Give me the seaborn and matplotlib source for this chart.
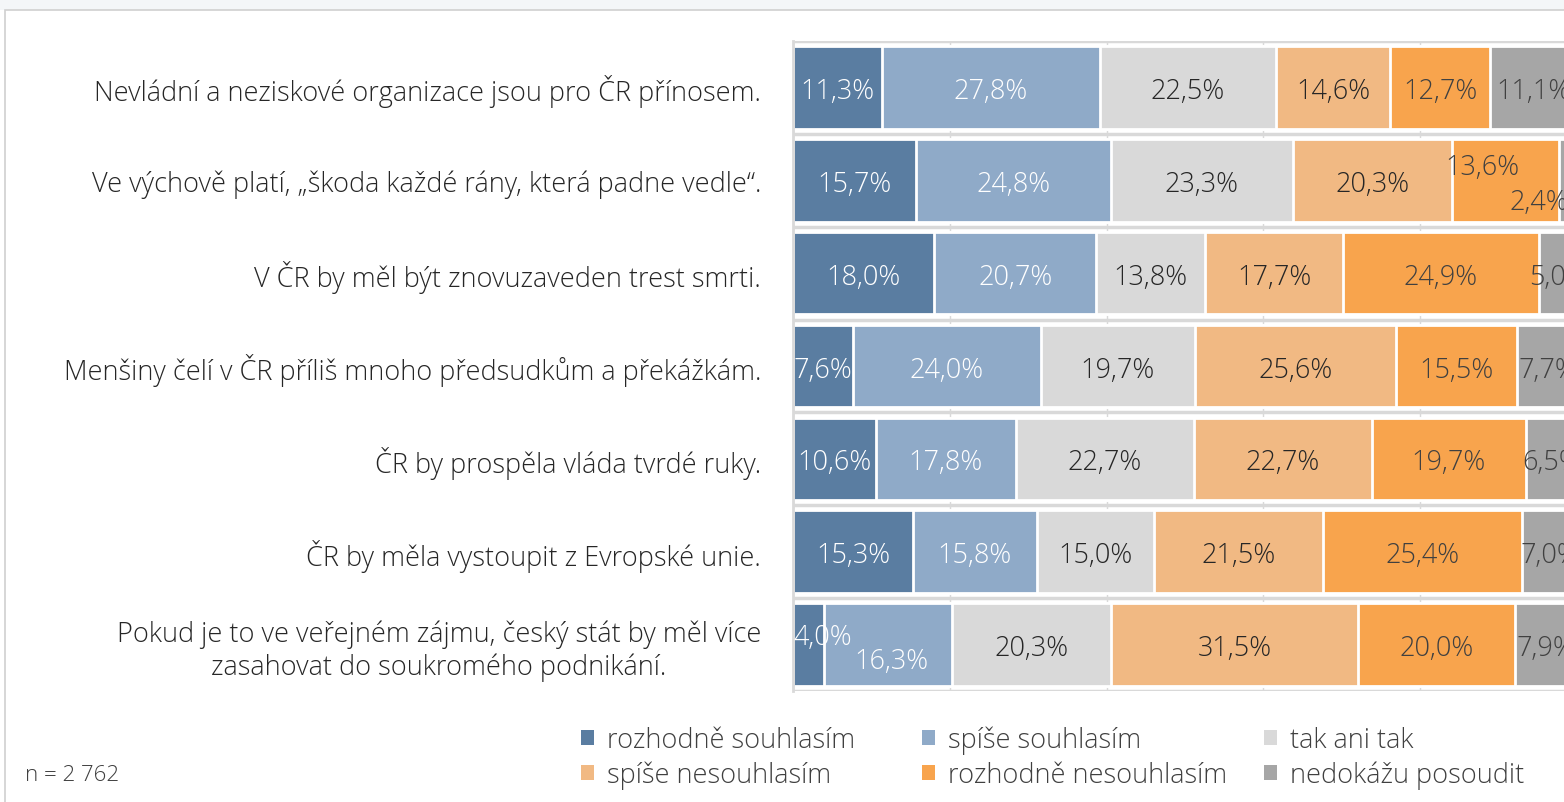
import matplotlib as mpl
mpl.use('agg')
import matplotlib.pyplot as plt
from matplotlib.patches import Patch, Rectangle
import seaborn as sns
import pandas as pd
import numpy as np

# statements (top to bottom)
statements = [
    "Nevládní a neziskové organizace jsou pro ČR přínosem.",
    "Ve výchově platí, „škoda každé rány, která padne vedle“.",
    "V ČR by měl být znovuzaveden trest smrti.",
    "Menšiny čelí v ČR příliš mnoho předsudkům a překážkám.",
    "ČR by prospěla vláda tvrdé ruky.",
    "ČR by měla vystoupit z Evropské unie.",
    "Pokud je to ve veřejném zájmu, český stát by měl více\nzasahovat do soukromého podnikání.",
]
answers = ["rozhodně souhlasím", "spíše souhlasím", "tak ani tak",
           "spíše nesouhlasím", "rozhodně nesouhlasím", "nedokážu posoudit"]

rozhodne_souhlasim = [11.3, 15.7, 18.0, 7.6, 10.6, 15.3, 4.0]
spise_souhlasim = [27.8, 24.8, 20.7, 24.0, 17.8, 15.8, 16.3]
tak_ani_tak = [22.5, 23.3, 13.8, 19.7, 22.7, 15.0, 20.3]
spise_nesouhlasim = [14.6, 20.3, 17.7, 25.6, 22.7, 21.5, 31.5]
rozhodne_nesouhlasim = [12.7, 13.6, 24.9, 15.5, 19.7, 25.4, 20.0]
nedokazu_posoudit = [11.1, 2.4, 5.0, 7.7, 6.5, 7.0, 7.9]

colors = ["#5A7DA1", "#8FAAC8", "#D9D9D9", "#F1B983", "#F8A44D", "#A6A6A6"]
label_colors = ["white", "white", "#262626", "#262626", "#404040", "#404040"]

# a few labels are nudged by hand (row, series) -> (dx, dy) in points
nudges = {(1, 4): (-17, 12), (1, 5): (-21, -13), (6, 0): (10, 8), (6, 1): (2, -9)}

FS = 19.5

df = pd.DataFrame({"statement": statements})
for name, vals in zip(answers, [rozhodne_souhlasim, spise_souhlasim, tak_ani_tak,
                                spise_nesouhlasim, rozhodne_nesouhlasim, nedokazu_posoudit]):
    df[name] = vals
cum = df[answers].cumsum(axis=1)

sns.set_style("white")
plt.rcParams['font.family'] = ['Open Sans', 'DejaVu Sans']
plt.rcParams['font.weight'] = 'light'

fig = plt.figure(figsize=(15.64, 8.03), dpi=100)
# frame of the original slide
fig.patches.append(Rectangle((0, 1 - 11 / 803), 1, 11 / 803, transform=fig.transFigure,
                             facecolor="#F4F6F8", edgecolor="none", zorder=0))
fig.patches.append(Rectangle((5 / 1564, -0.1), 1.2, 1.1 - 11 / 803, transform=fig.transFigure,
                             facecolor="none", edgecolor="#D0D0D0", lw=1.2, zorder=1))

ax = fig.add_axes([793 / 1564, 0.1382, 784 / 1564, 0.8095])

# stacked bars: draw cumulative totals from the last series to the first
for i in range(len(answers) - 1, -1, -1):
    sns.barplot(x=cum[answers[i]], y=df["statement"], orient="h", color=colors[i],
                width=0.89, edgecolor="white", linewidth=2, saturation=1, ax=ax, zorder=2)

ax.set_xlim(0, 100)
ax.set_ylim(6.5, -0.5)
ax.set_xlabel("")
ax.set_ylabel("")
ax.set_xticks(np.arange(0, 101, 20))
ax.set_xticklabels([])
ax.set_yticks(np.arange(-0.5, 7, 1), minor=True)
ax.tick_params(axis="x", length=0)
ax.tick_params(axis="y", which="both", length=0, pad=23, labelsize=FS, labelcolor="#262626")
for lbl in ax.get_yticklabels():
    lbl.set_multialignment("center")
ax.set_axisbelow(True)
ax.grid(axis="x", color="#D9D9D9", lw=1)
ax.grid(axis="y", which="minor", color="#D9D9D9", lw=2.5)
for s in ["top", "right", "bottom"]:
    ax.spines[s].set_visible(False)
ax.spines["left"].set_color("#D9D9D9")
ax.spines["left"].set_linewidth(2)

# data labels
for r in range(len(statements)):
    for i, name in enumerate(answers):
        v = df.loc[r, name]
        xc = cum.loc[r, name] - v / 2
        dx, dy = nudges.get((r, i), (0, 0))
        ax.annotate(f"{v:.1f}%".replace(".", ","), (xc, r), xytext=(dx, dy),
                    textcoords="offset points", ha="center", va="center_baseline",
                    fontsize=FS, color=label_colors[i], annotation_clip=False, zorder=5)

# legend in three columns of two
handles = [Patch(facecolor=c, edgecolor="none") for c in colors]
for col, x0 in enumerate([570, 911, 1253]):
    leg = fig.legend(handles=[handles[col], handles[col + 3]], labels=[answers[col], answers[col + 3]],
                     loc="upper left", bbox_to_anchor=(x0 / 1564, 1 - 716 / 803), frameon=False,
                     fontsize=FS, handlelength=0.5, handleheight=0.5, handletextpad=0.45,
                     labelspacing=0.25, borderaxespad=0)
    for t in leg.get_texts():
        t.set_color("#404040")

fig.text(25 / 1564, 1 - 776 / 803, "n = 2 762", fontsize=16, color="#404040", va="center")

fig.savefig("out.png", dpi=100)
